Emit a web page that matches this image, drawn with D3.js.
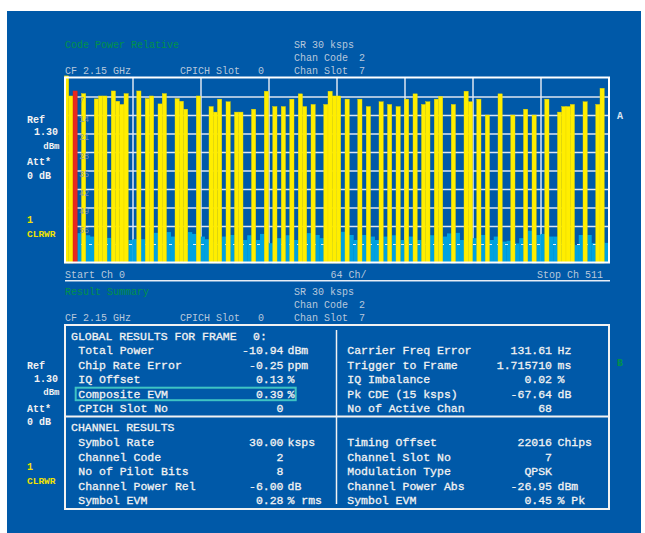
<!DOCTYPE html>
<html><head><meta charset="utf-8">
<script src="https://cdn.jsdelivr.net/npm/d3@7"></script>
<style>
body{margin:0;background:#fff;}
svg{display:block;}
text{font-family:"Liberation Mono","Courier New",monospace;}
</style>
</head><body>
<svg id="c" width="645" height="533"></svg>
<script>
// ---------- DATA ----------
// active code channels: start channel (of 512), relative power (dB)
const barStarts = [0,4,8,16,28,32,36,44,48,52,56,68,76,80,88,92,104,108,112,124,136,140,144,152,160,164,176,188,196,204,212,220,224,232,244,248,252,256,264,276,284,296,304,312,320,328,336,340,348,352,364,376,380,388,396,408,420,432,440,452,464,468,472,476,488,500,504];
const barValues = [0.8,-6.8,-4.9,-5.9,-7.9,-6.8,-6.8,-4.9,-8.8,-10,-5.9,-4.9,-7.8,-6.8,-9.8,-5.9,-7.8,-8.8,-11.8,-6.8,-10.8,-12.9,-8,-9,-12.9,-12.9,-11.8,-5,-10.8,-10.8,-8,-6,-10.8,-10,-10,-5,-6.8,-6.8,-8,-8,-10.8,-9,-10,-10.8,-8,-6,-10,-9,-8,-7,-10,-5,-9,-8,-14,-6,-14,-11.8,-14,-8,-12.9,-10.8,-10.8,-10,-9,-10,-3.9];
const selectedChannel = 8;
const channelWidth = 4;
// inactive channel noise, one value per group of 4 channels (dB)
const noiseLevels = [
-64,-62.5,-62,-58.7,-62,-59.5,-60,-62,-62,-62,-60.5,-62,-62,-62,-62,-61.3,
-61,-62,-61,-62,-62,-58.6,-62,-62,-58.3,-60,-62,-62,-62,-58.3,-59,-62,
-60,-61,-62,-62,-62,-60,-62,-59.4,-62,-62,-61.3,-59.5,-62,-61.3,-59,-62,
-62.5,-62,-60.6,-62,-59.5,-62,-61.3,-62,-62,-58.7,-62,-59.4,-60.6,-62,-62,-62,
-62,-58.2,-62,-59.4,-61.3,-62,-59.4,-62,-60,-61.3,-62,-60,-62,-59.5,-62,-61.3,
-62,-60,-62,-61.3,-62,-62,-59.5,-62,-62,-60,-58.8,-62,-58.6,-61.3,-62,-62,
-60.6,-62,-59.4,-62,-61.3,-60,-62,-61.9,-61.6,-62,-62.6,-60.6,-62,-57.8,-62,-59.4,
-59,-62,-60,-60,-62,-62,-62,-62,-63.2,-59.4,-62,-59.4,-62.5,-62,-62,-62.4];
const yTickValues = [-7,-14,-21,-28,-35,-42,-49,-56];
const yTickLabels = ["7","14","21","28","35","42","49","56"];
const xGridValues = [64,128,192,256,320,384,448];
const thresholdLevel = -63;

const globalLabels = ["Total Power","Chip Rate Error","IQ Offset","Composite EVM","CPICH Slot No"];
const globalValues = ["-10.94","-0.25","0.13","0.39","0"];
const globalUnits  = ["dBm","ppm","%","%",""];
const globalLabels2 = ["Carrier Freq Error","Trigger to Frame","IQ Imbalance","Pk CDE (15 ksps)","No of Active Chan"];
const globalValues2 = ["131.61","1.715710","0.02","-67.64","68"];
const globalUnits2  = ["Hz","ms","%","dB",""];
const chanLabels = ["Symbol Rate","Channel Code","No of Pilot Bits","Channel Power Rel","Symbol EVM"];
const chanValues = ["30.00","2","8","-6.00","0.28"];
const chanUnits  = ["ksps","","","dB","% rms"];
const chanLabels2 = ["Timing Offset","Channel Slot No","Modulation Type","Channel Power Abs","Symbol EVM"];
const chanValues2 = ["22016","7","QPSK","-26.95","0.45"];
const chanUnits2  = ["Chips","","","dBm","% Pk"];

// ---------- DRAW ----------
const svg = d3.select("#c");
const C = {bg:"#0059a8", grid:"#dce6f2", frame:"#ffffff", txt:"#b8c8dc", green:"#00924a",
           white:"#f2f2f2", yellow:"#ffee00", red:"#e8281e", noise:"#00a2e0", yl:"#f0e200"};

svg.append("rect").attr("x",7).attr("y",11).attr("width",634).attr("height",522).attr("fill",C.bg);

const x = d3.scaleLinear().domain([0,512]).range([64.5,608.5]);
const y = d3.scaleLinear().domain([0,-70]).range([78,263]);
const X0=65, X1=609, Y0=78, Y1=263;

const g = svg.append("g");
g.append("g").attr("transform",`translate(0,${Y1})`)
 .call(d3.axisBottom(x).tickValues(xGridValues).tickSize(-(Y1-Y0)).tickFormat(""))
 .call(a=>{a.select(".domain").remove(); a.selectAll("line").attr("stroke",C.grid).attr("stroke-width",1.5);});
g.append("g").attr("transform",`translate(${X0},0)`)
 .call(d3.axisLeft(y).tickValues(yTickValues).tickSize(-(X1-X0)).tickFormat(""))
 .call(a=>{a.select(".domain").remove(); a.selectAll("line").attr("stroke",C.grid).attr("stroke-width",1.5);});

// noise
g.selectAll("rect.noise").data(noiseLevels).join("rect")
 .attr("x",(d,i)=>x(i*4)).attr("width",x(4)-x(0)+0.2)
 .attr("y",d=>y(d)).attr("height",d=>y(-70)-y(d)).attr("fill",C.noise);

// threshold dashed line
g.append("line").attr("x1",X0).attr("x2",X1).attr("y1",y(thresholdLevel)).attr("y2",y(thresholdLevel))
 .attr("stroke","#e8eef8").attr("stroke-width",1.2).attr("stroke-dasharray","3,5");

// bars
g.selectAll("rect.bar").data(barStarts).join("rect")
 .attr("x",d=>x(d)).attr("width",x(channelWidth)-x(0))
 .attr("y",(d,i)=>y(barValues[i])).attr("height",(d,i)=>y(-70)-y(barValues[i]))
 .attr("fill",d=>d===selectedChannel?C.red:C.yellow)
 .attr("stroke",d=>d===selectedChannel?"#d82418":"#e8d800").attr("stroke-width",0.4);

// y tick labels (drawn over bars)
g.selectAll("text.yl").data(yTickValues).join("text")
 .attr("x",79).attr("y",d=>y(d)+6.5).text((d,i)=>yTickLabels[i])
 .attr("font-size",8.5).attr("fill","#8496b8").attr("fill-opacity",0.9);

// frame
svg.append("rect").attr("x",X0).attr("y",Y0-0.5).attr("width",X1-X0).attr("height",Y1-Y0)
 .attr("fill","none").attr("stroke",C.frame).attr("stroke-width",2);

function t(xp,yp,s,opt={}){
  const e = svg.append("text").attr("x",xp).attr("y",yp).text(s)
   .attr("font-size",opt.size||10).attr("fill",opt.fill||C.txt)
   .attr("font-weight",opt.bold?"bold":"normal").attr("text-anchor",opt.anchor||"start");
  if(opt.heavy) e.attr("stroke",opt.fill||C.txt).attr("stroke-width",0.3);
  return e;
}
function header(y0,title){
  t(65,y0,title,{fill:C.green});
  t(294,y0,"SR 30 ksps");
  t(294,y0+13,"Chan Code"); t(359,y0+13,"2");
  t(65,y0+26,"CF 2.15 GHz"); t(180,y0+26,"CPICH Slot"); t(258,y0+26,"0");
  t(294,y0+26,"Chan Slot"); t(359,y0+26,"7");
}
header(47.5,"Code Power Relative");
header(294.5,"Result Summary");

t(65,277.5,"Start Ch 0"); t(330.5,277.5,"64 Ch/"); t(603,277.5,"Stop Ch 511",{anchor:"end"});
svg.append("line").attr("x1",65).attr("x2",610).attr("y1",280.7).attr("y2",280.7).attr("stroke","#e6eef8").attr("stroke-width",1.5);

function sideLabels(yRef,yAtt,yTr){
  t(27,yRef,"Ref",{bold:true,fill:C.white});
  t(58,yRef+12.7,"1.30",{bold:true,fill:C.white,anchor:"end"});
  t(59.5,yRef+26,"dBm",{bold:true,fill:C.white,anchor:"end",size:9});
  t(27,yAtt,"Att*",{bold:true,fill:C.white});
  t(27,yAtt+13.3,"0 dB",{bold:true,fill:C.white});
  t(27,yTr,"1",{bold:true,fill:C.yl});
  t(27,yTr+13.6,"CLRWR",{bold:true,fill:C.yl,size:9.5});
}
sideLabels(122.5,165.2,223.2);
sideLabels(369.2,411.8,470.2);
t(617,118.5,"A",{bold:true,fill:"#dde6f2"});
t(617,365.5,"B",{bold:true,fill:C.green});

// table
const tb = svg.append("g");
tb.append("rect").attr("x",65).attr("y",325).attr("width",544).attr("height",184)
 .attr("fill","none").attr("stroke",C.white).attr("stroke-width",2);
tb.append("line").attr("x1",65).attr("x2",609).attr("y1",416.5).attr("y2",416.5).attr("stroke",C.white).attr("stroke-width",2);
tb.append("line").attr("x1",336.5).attr("x2",336.5).attr("y1",330).attr("y2",504).attr("stroke",C.white).attr("stroke-width",1.5);

const fs=11.5;
t(71,339.7,"GLOBAL RESULTS FOR FRAME",{size:fs,fill:C.white,heavy:true});
t(253,339.7,"0:",{size:fs,fill:C.white,heavy:true});
t(71,431.3,"CHANNEL RESULTS",{size:fs,fill:C.white,heavy:true});
function rows(labels,vals,units,xl,xv,xu,y0){
  labels.forEach((l,i)=>{
    const yy=y0+i*14.55;
    t(xl,yy,l,{size:fs,fill:C.white,heavy:true});
    t(xv,yy,vals[i],{size:fs,fill:C.white,anchor:"end",heavy:true});
    if(units[i]) t(xu,yy,units[i],{size:fs,fill:C.white,heavy:true});
  });
}
rows(globalLabels,globalValues,globalUnits,78.3,283.5,287.5,354);
rows(globalLabels2,globalValues2,globalUnits2,347.3,552,557.5,354);
rows(chanLabels,chanValues,chanUnits,78.3,283.5,287.5,446);
rows(chanLabels2,chanValues2,chanUnits2,347.3,552,557.5,446);
tb.append("rect").attr("x",75.7).attr("y",387.7).attr("width",220).attr("height",12.5)
 .attr("fill","none").attr("stroke","#3ec4c4").attr("stroke-width",2);
</script>
</body></html>
